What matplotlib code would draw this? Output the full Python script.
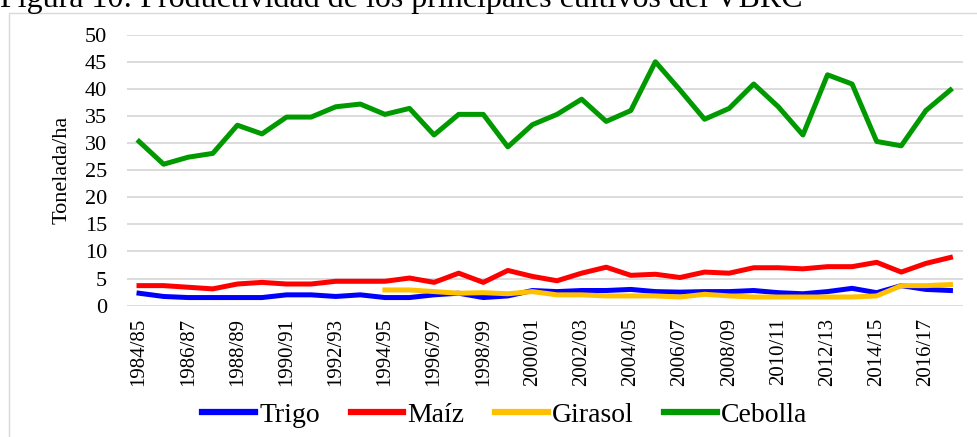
import matplotlib.pyplot as plt
import matplotlib.patches as patches

# campañas 1984/85 .. 2017/18
seasons = [f"{y}/{str(y + 1)[-2:]}" for y in range(1984, 2018)]

trigo = [2.3, 1.7, 1.5, 1.5, 1.5, 1.5, 2.0, 2.0, 1.7, 2.0,
         1.5, 1.5, 2.0, 2.3, 1.5, 1.8, 2.8, 2.6, 2.8, 2.8,
         3.0, 2.6, 2.5, 2.6, 2.6, 2.8, 2.4, 2.2, 2.6, 3.2,
         2.4, 3.7, 3.0, 2.8]
maiz = [3.7, 3.7, 3.4, 3.1, 4.0, 4.3, 4.0, 4.0, 4.5, 4.5,
        4.5, 5.1, 4.3, 6.0, 4.3, 6.5, 5.4, 4.6, 6.0, 7.1,
        5.6, 5.8, 5.2, 6.2, 6.0, 7.0, 7.0, 6.8, 7.2, 7.2,
        8.0, 6.2, 7.8, 8.9]
# girasol desde 1994/95
girasol = [None] * 10 + [2.9, 2.9, 2.6, 2.3, 2.4, 2.2, 2.6, 2.0, 2.0, 1.8,
                         1.8, 1.8, 1.6, 2.1, 1.8, 1.6, 1.6, 1.6, 1.6, 1.6,
                         1.8, 3.7, 3.7, 3.9]
cebolla = [30.3, 26.1, 27.4, 28.1, 33.3, 31.7, 34.8, 34.8, 36.7, 37.2,
           35.3, 36.4, 31.5, 35.3, 35.3, 29.3, 33.4, 35.3, 38.1, 34.0,
           36.0, 45.0, 39.8, 34.4, 36.4, 40.9, 36.7, 31.5, 42.6, 40.9,
           30.3, 29.5, 36.0, 39.8]

series = [("Trigo", trigo, "#0000FF"), ("Maíz", maiz, "#FF0000"),
          ("Girasol", girasol, "#FFC000"), ("Cebolla", cebolla, "#009A00")]

plt.rcParams['font.family'] = ['Liberation Serif', 'DejaVu Serif']

fig = plt.figure(figsize=(9.77, 4.37), dpi=100)
ax = fig.add_axes([0.1297, 0.3005, 0.8557, 0.6201])

x = list(range(len(seasons)))
for name, vals, col in series:
    xs = [i for i, v in zip(x, vals) if v is not None]
    ys = [v for v in vals if v is not None]
    ax.plot(xs, ys, color=col, lw=3.6, label=name, solid_joinstyle='round')

ax.set_xlim(-0.5, len(seasons) - 0.5)
ax.set_ylim(0, 50)
ax.set_yticks(range(0, 51, 5))
ax.set_xticks(x[::2])
ax.set_xticklabels(seasons[::2], rotation=90)
ax.tick_params(axis='y', length=0, pad=14, labelsize=16)
ax.tick_params(axis='x', length=0, pad=9, labelsize=15)
ax.grid(axis='y', color='#D9D9D9', lw=1.3)
ax.set_axisbelow(True)
for s in ax.spines.values():
    s.set_visible(False)
ax.set_ylabel("Tonelada/ha", fontsize=16, labelpad=10)

ax.legend(loc='center', bbox_to_anchor=(505 / 977, (437 - 415) / 437), bbox_transform=fig.transFigure,
          ncol=4, frameon=False, fontsize=20, handlelength=1.9, handletextpad=0.15,
          columnspacing=1.1)
for h in ax.get_legend().get_lines():
    h.set_linewidth(4.5)

# borde del gráfico
fig.patches.append(patches.Rectangle((9 / 977, -0.1), 1.2, (437 - 13) / 437 + 0.1,
                                     transform=fig.transFigure, fill=False,
                                     edgecolor='#D9D9D9', lw=1))

fig.text(0.0, (437 - 7) / 437, "Figura 10: Productividad de los principales cultivos del VBRC",
         fontsize=23, va='baseline', ha='left')

fig.savefig('out.png', dpi=100)
